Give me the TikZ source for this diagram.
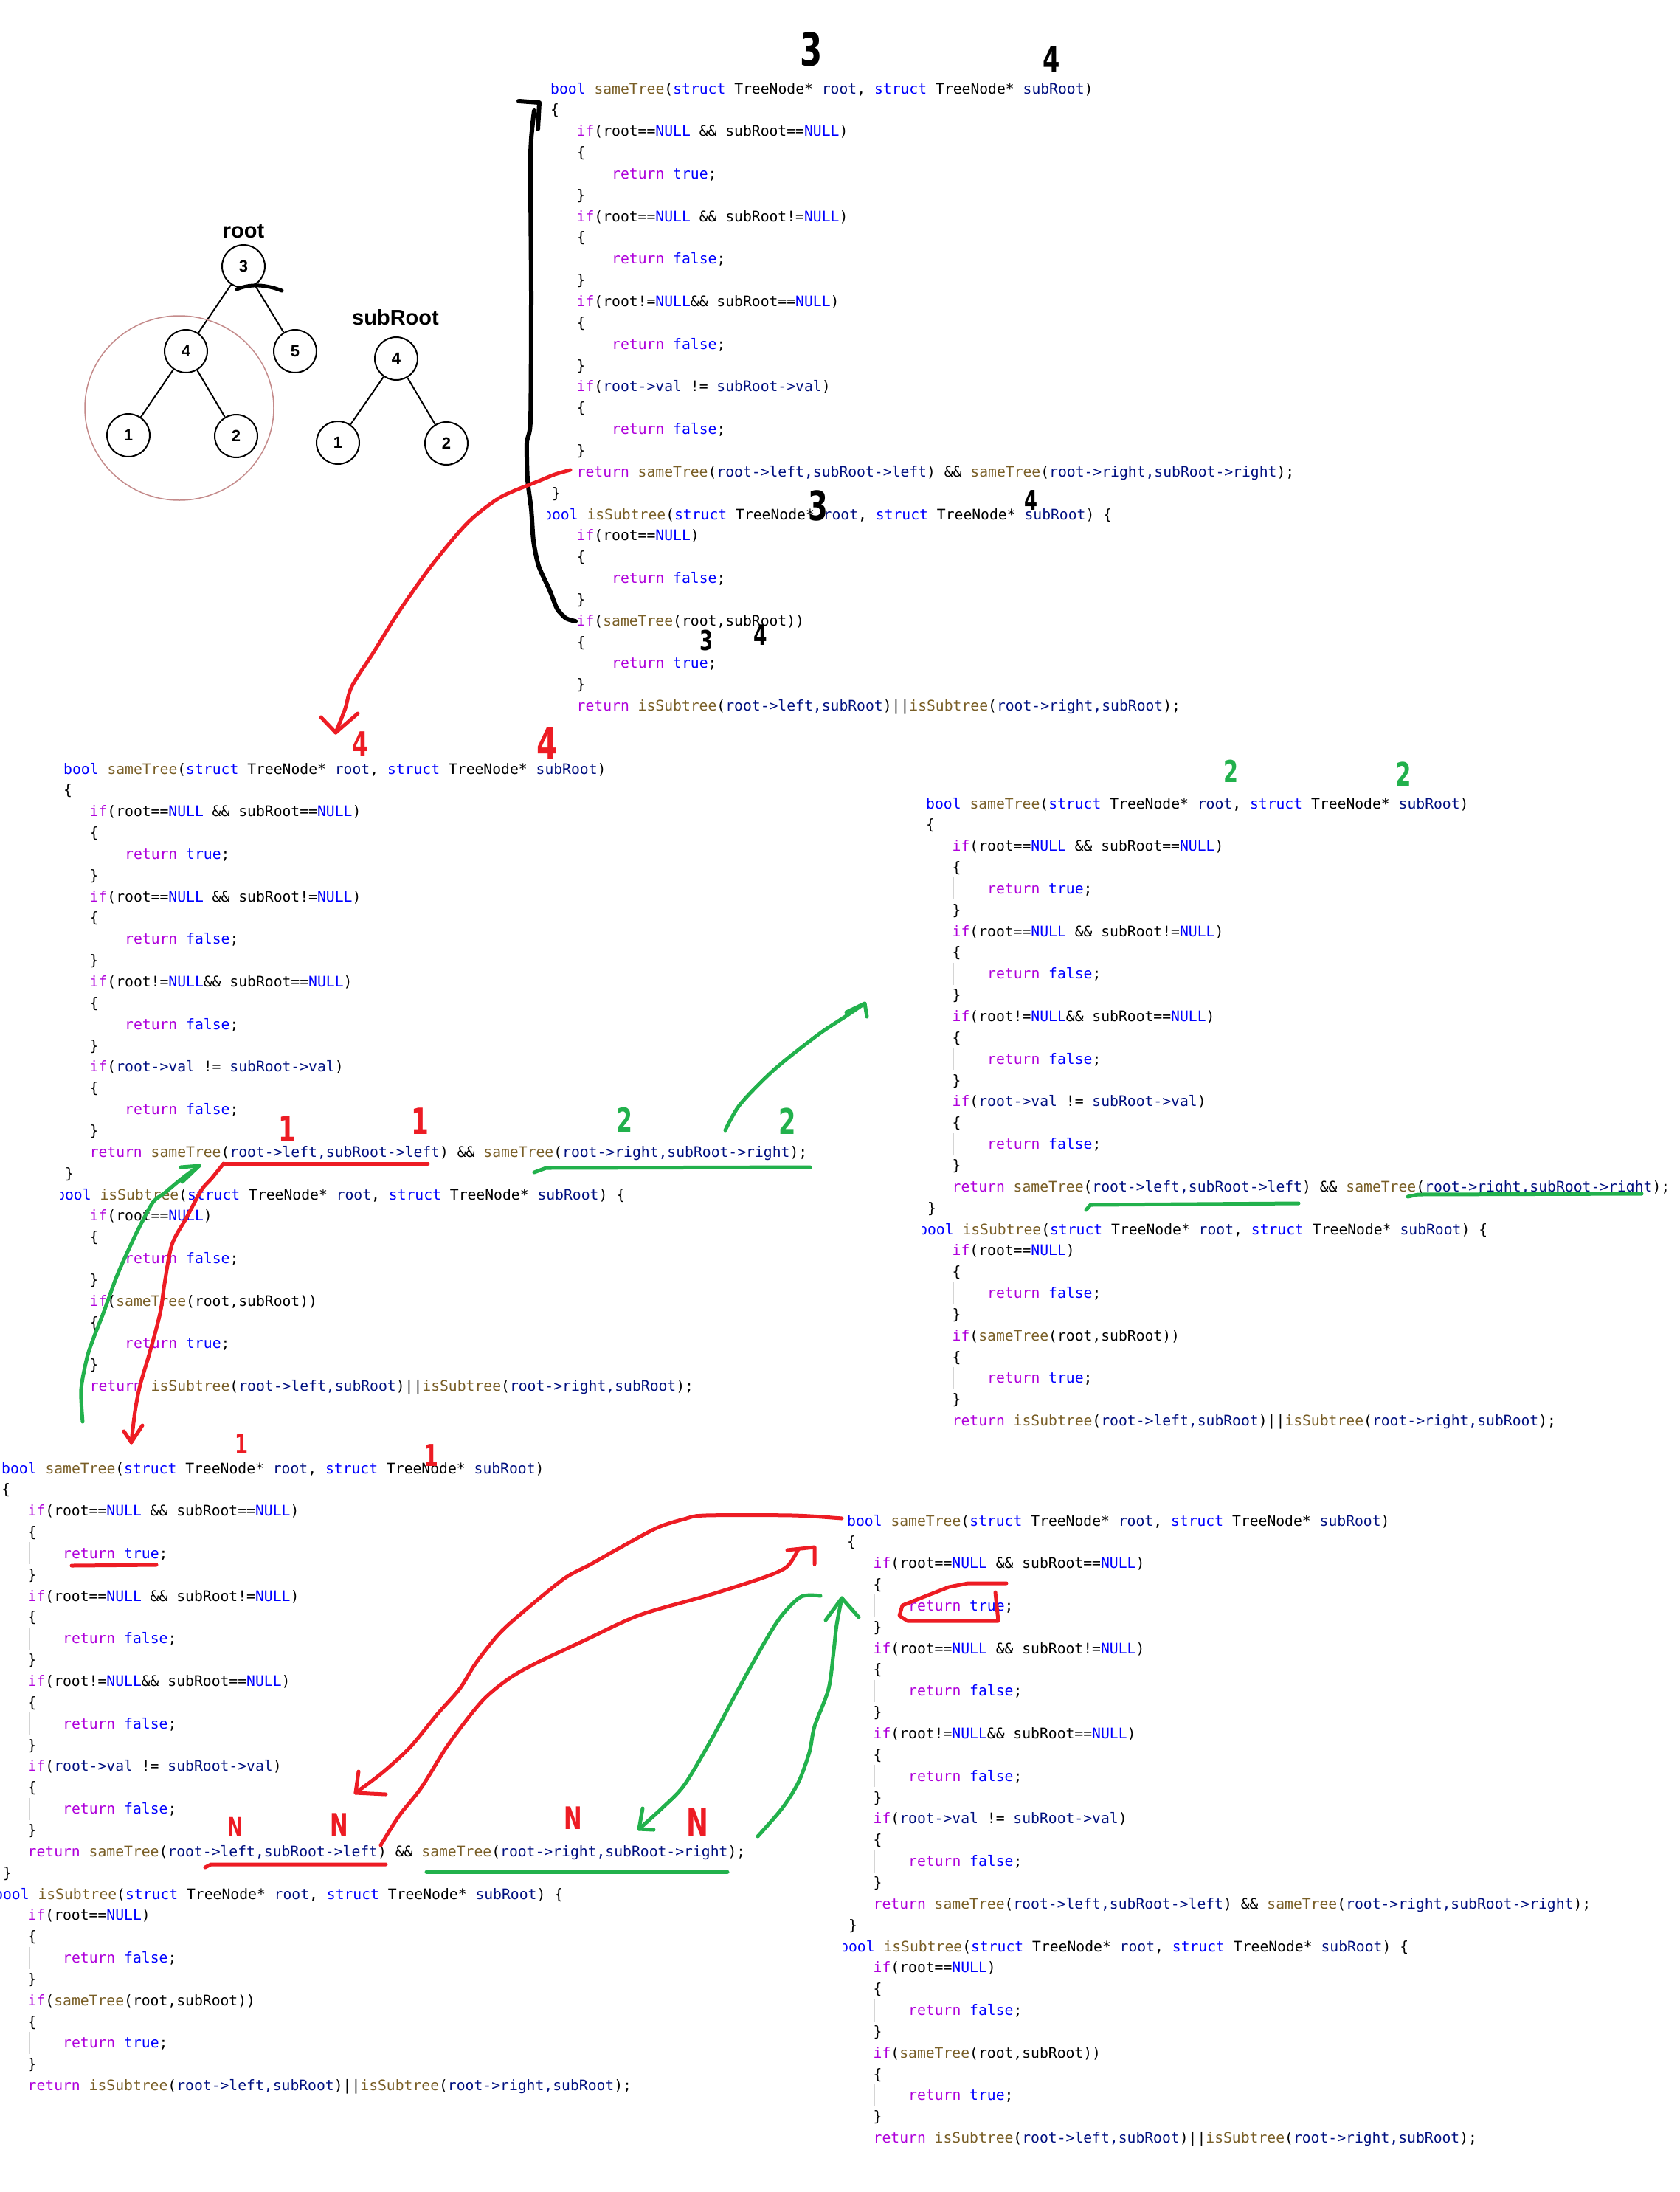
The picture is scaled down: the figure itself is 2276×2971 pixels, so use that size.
\documentclass[tikz,border=0pt]{standalone}
\usepackage{fontspec}
\usetikzlibrary{positioning}
\newfontfamily\codefont{DejaVu Sans Mono}
\newfontfamily\treefont{Liberation Sans}
\newfontfamily\handfont{DejaVu Sans}
\definecolor{kwblue}{HTML}{0000FF}
\definecolor{ctrlpurple}{HTML}{AF00DB}
\definecolor{fnbrown}{HTML}{795E26}
\definecolor{varnavy}{HTML}{001080}
\definecolor{penred}{HTML}{ED1C24}
\definecolor{pengreen}{HTML}{22B14C}
\definecolor{ringred}{HTML}{C48A8A}
\definecolor{guidegray}{HTML}{D4D4D4}
% syntax colours
\newcommand\kw[1]{\textcolor{kwblue}{#1}}
\newcommand\ct[1]{\textcolor{ctrlpurple}{#1}}
\newcommand\fn[1]{\textcolor{fnbrown}{#1}}
\newcommand\vr[1]{\textcolor{varnavy}{#1}}
% handwritten marks
\newcommand\hw[2]{\scalebox{0.7}[1]{\fontsize{#1}{#1}\selectfont #2}}
% one line of code: block, line, indent, text
\newcommand\codeln[4]{\node[codetext] (#1l#2) at (#3,{(#2-1)*28.85+7}) {#4};}
% the two functions, as in the screenshots
\newcommand\codeblock[3]{%
\begin{scope}[shift={(#2,#3)}]
\foreach \g in {5,9,13,17,24,28}
  \draw[guide] (37,{(\g-1)*28.85-15}) -- (37,{(\g-1)*28.85+15});
\codeln{#1}{1}{0}{\kw{bool} \fn{sameTree}(\kw{struct} TreeNode* \vr{root}, \kw{struct} TreeNode* \vr{subRoot})}
\codeln{#1}{2}{0}{\{}
\codeln{#1}{3}{35.5}{\ct{if}(root==\kw{NULL} \&\& subRoot==\kw{NULL})}
\codeln{#1}{4}{35.5}{\{}
\codeln{#1}{5}{83}{\ct{return} \kw{true};}
\codeln{#1}{6}{35.5}{\}}
\codeln{#1}{7}{35.5}{\ct{if}(root==\kw{NULL} \&\& subRoot!=\kw{NULL})}
\codeln{#1}{8}{35.5}{\{}
\codeln{#1}{9}{83}{\ct{return} \kw{false};}
\codeln{#1}{10}{35.5}{\}}
\codeln{#1}{11}{35.5}{\ct{if}(root!=\kw{NULL}\&\& subRoot==\kw{NULL})}
\codeln{#1}{12}{35.5}{\{}
\codeln{#1}{13}{83}{\ct{return} \kw{false};}
\codeln{#1}{14}{35.5}{\}}
\codeln{#1}{15}{35.5}{\ct{if}(\vr{root->val} != \vr{subRoot->val})}
\codeln{#1}{16}{35.5}{\{}
\codeln{#1}{17}{83}{\ct{return} \kw{false};}
\codeln{#1}{18}{35.5}{\}}
\codeln{#1}{19}{35.5}{\ct{return} \fn{sameTree}(\vr{root->left,subRoot->left}) \&\& \fn{sameTree}(\vr{root->right,subRoot->right});}
\codeln{#1}{20}{2}{\}}
\codeln{#1}{21}{-10}{\kw{bool} \fn{isSubtree}(\kw{struct} TreeNode* \vr{root}, \kw{struct} TreeNode* \vr{subRoot}) \{}
\codeln{#1}{22}{35.5}{\ct{if}(root==\kw{NULL})}
\codeln{#1}{23}{35.5}{\{}
\codeln{#1}{24}{83}{\ct{return} \kw{false};}
\codeln{#1}{25}{35.5}{\}}
\codeln{#1}{26}{35.5}{\ct{if}(\fn{sameTree}(root,subRoot))}
\codeln{#1}{27}{35.5}{\{}
\codeln{#1}{28}{83}{\ct{return} \kw{true};}
\codeln{#1}{29}{35.5}{\}}
\codeln{#1}{30}{35.5}{\ct{return} \fn{isSubtree}(\vr{root->left,subRoot})||\fn{isSubtree}(\vr{root->right,subRoot});}
\fill[white] (-12,{20*28.85-17}) rectangle (-5.5,{20*28.85+12});
\end{scope}}

\begin{document}
\begin{tikzpicture}[x=1pt, y=-1pt,
	codetext/.style = {font=\codefont\fontsize{19.7}{24}\selectfont, anchor=base west, inner sep=0pt, text=black},
	guide/.style = {draw=guidegray, line width=1pt},
	tnode/.style = {circle, draw, line width=2pt, minimum size=58pt, inner sep=0pt, font=\treefont\bfseries\fontsize{22}{22}\selectfont},
	tlabel/.style = {inner sep=0pt, font=\treefont\bfseries\fontsize{29}{29}\selectfont},
	hand/.style = {inner sep=0pt, font=\handfont\bfseries},
	redpen/.style = {draw=penred, line width=5pt, line cap=round, line join=round},
	greenpen/.style = {draw=pengreen, line width=5pt, line cap=round, line join=round},
	blackpen/.style = {draw=black, line width=6pt, line cap=round, line join=round}]
\fill[white] (0,0) rectangle (2276,2971);
\useasboundingbox (0,0) rectangle (2276,2971);

% the two trees
\node (n3) [tnode] at (330,361) {3};
\node (n4) [tnode, on grid, below left=115pt and 78pt of n3] {4};
\node (n5) [tnode, on grid, below right=115pt and 70pt of n3] {5};
\node (n1) [tnode, on grid, below left=114pt and 78pt of n4] {1};
\node (n2) [tnode, on grid, below right=115pt and 68pt of n4] {2};
\node (rootlbl) [tlabel] at (330,313) {root};
\node (s4) [tnode] at (537,486) {4};
\node (s1) [tnode, on grid, below left=114pt and 79pt of s4] {1};
\node (s2) [tnode, on grid, below right=115pt and 68pt of s4] {2};
\node (sublbl) [tlabel] at (536,430) {subRoot};
\path [draw, line width=2pt]
	(n3) edge (n4)
	(n3) edge (n5)
	(n4) edge (n1)
	(n4) edge (n2)
	(s4) edge (s1)
	(s4) edge (s2);
\draw [ringred, line width=1.5pt] (243,553) ellipse [x radius=128, y radius=125];
\draw [blackpen, line width=5pt] (321,392) .. controls (340,384) and (362,386) .. (382,394);

% five copies of the code
\codeblock{top}{746}{120}
\codeblock{ml}{86}{1042}
\codeblock{mr}{1255}{1089}
\codeblock{bl}{2}{1990}
\codeblock{br}{1148}{2061}

% black marks on the top copy
\node (k3a) [hand, black] at (1100,67) {\hw{62}{3}};
\node (k4a) [hand, black] at (1425,80) {\hw{48}{4}};
\node (k3b) [hand, black] at (1109,685) {\hw{55}{3}};
\node (k4b) [hand, black] at (1397,678) {\hw{37}{4}};
\node (k3c) [hand, black] at (957,868) {\hw{37}{3}};
\node (k4c) [hand, black] at (1031,861) {\hw{38}{4}};
\coordinate (kbtop) at (724,150);
\coordinate (kbend) at (780,842);
\draw [blackpen] (703,137) -- (731,139) -- (729,175);
\draw [blackpen] plot [smooth, tension=0.4] coordinates {(kbtop) (719,210) (720,400) (719,570) (714,600) (715,650) (720,690) (723,733) (730,767) (745,800) (755,825) (767,838) (kbend)};

% red: top call into the first copy
\coordinate (r1s) at (773,637);
\coordinate (r1e) at (455,993);
\draw [redpen] plot [smooth, tension=0.5] coordinates {(r1s) (752,643) (730,652) (680,673) (643,700) (617,727) (580,773) (540,830) (507,883) (477,930) (468,960) (r1e)};
\draw [redpen] (435,972) -- (r1e) -- (485,967);
\node (r4a) [hand, penred] at (488,1008) {\hw{45}{4}};
\node (r4b) [hand, penred] at (742,1008) {\hw{59}{4}};

% marks on the middle left copy
\node (r1a) [hand, penred] at (389,1530) {\hw{48}{1}};
\node (r1b) [hand, penred] at (569,1520) {\hw{49}{1}};
\node (g2a) [hand, pengreen] at (846,1518) {\hw{45}{2}};
\node (g2b) [hand, pengreen] at (1067,1520) {\hw{48}{2}};
\coordinate (r2s) at (580,1577);
\coordinate (r2m) at (303,1577);
\coordinate (r2e) at (178,1955);
\draw [redpen] (r2s) -- (r2m);
\draw [redpen] plot [smooth, tension=0.5] coordinates {(r2m) (287,1597) (273,1613) (253,1650) (233,1687) (223,1740) (217,1780) (203,1833) (190,1877) (183,1913) (r2e)};
\draw [redpen] (168,1940) -- (r2e) -- (193,1932);
\coordinate (g1s) at (112,1927);
\coordinate (g1e) at (270,1580);
\draw [greenpen] plot [smooth, tension=0.5] coordinates {(g1s) (110,1883) (118,1840) (127,1813) (140,1780) (157,1733) (170,1703) (187,1667) (207,1630) (223,1617) (247,1597) (g1e)};
\draw [greenpen] (245,1582) -- (g1e) -- (247,1602);
\draw [greenpen] (724,1589) -- (740,1583) -- (1098,1582);
\coordinate (g2s) at (983,1532);
\coordinate (g2e) at (1172,1360);
\draw [greenpen] plot [smooth, tension=0.5] coordinates {(g2s) (1003,1497) (1049,1450) (1108,1403) (1147,1377) (g2e)};
\draw [greenpen] (1147,1372) -- (g2e) -- (1175,1378);

% marks on the middle right copy
\node (g2c) [hand, pengreen] at (1668,1045) {\hw{41}{2}};
\node (g2d) [hand, pengreen] at (1902,1049) {\hw{44}{2}};
\draw [greenpen] (1908,1622) -- (1922,1619) -- (2225,1618);
\draw [greenpen] (1472,1640) -- (1478,1633) -- (1760,1631);

% marks on the bottom left copy
\node (r1c) [hand, penred] at (328,1957) {\hw{37}{1}};
\node (r1d) [hand, penred] at (584,1973) {\hw{41}{1}};
\draw [redpen] (97,2122) -- (212,2121);
\node (rNa) [hand, penred] at (319,2476) {\hw{36}{N}};
\node (rNb) [hand, penred] at (460,2473) {\hw{42}{N}};
\node (rNc) [hand, penred] at (777,2464) {\hw{42}{N}};
\node (rNd) [hand, penred] at (945,2470) {\hw{51}{N}};
\draw [redpen] (278,2531) -- (286,2527) -- (523,2527);
\draw [greenpen] (578,2537) -- (986,2537);

% calls between the two bottom copies
\coordinate (r3s) at (1141,2058);
\coordinate (r3e) at (482,2430);
\draw [redpen] plot [smooth, tension=0.5] coordinates {(r3s) (1075,2054) (956,2054) (927,2059) (890,2071) (838,2099) (801,2120) (764,2140) (704,2189) (675,2216) (645,2254) (623,2289) (593,2323) (556,2368) (519,2402) (r3e)};
\draw [redpen] (486,2401) -- (r3e) -- (523,2432);
\coordinate (r4s) at (516,2501);
\coordinate (r4e) at (1104,2097);
\draw [redpen] plot [smooth, tension=0.5] coordinates {(r4s) (541,2461) (571,2423) (608,2364) (653,2306) (690,2275) (727,2254) (793,2223) (867,2189) (964,2161) (1038,2137) (1067,2123) (1082,2100)};
\draw [redpen] (1067,2101) -- (r4e) -- (1104,2120);
\coordinate (g3s) at (1112,2163);
\coordinate (g3e) at (866,2479);
\draw [greenpen] plot [smooth, tension=0.5] coordinates {(g3s) (1086,2164) (1060,2189) (1038,2223) (1001,2289) (964,2358) (927,2420) (897,2451) (g3e)};
\draw [greenpen] (871,2451) -- (g3e) -- (886,2480);
\coordinate (g4s) at (1027,2489);
\coordinate (g4e) at (1141,2166);
\draw [greenpen] plot [smooth, tension=0.5] coordinates {(g4s) (1060,2451) (1082,2416) (1097,2375) (1104,2340) (1123,2289) (1130,2237) (1134,2202) (g4e)};
\draw [greenpen] (1119,2196) -- (g4e) -- (1164,2192);

% red box on the bottom right copy
\draw [redpen] (1364,2146) -- (1312,2146) -- (1286,2151) -- (1253,2164) -- (1223,2176) -- (1219,2190) -- (1230,2197) -- (1353,2197) -- (1349,2158);
\end{tikzpicture}
\end{document}
